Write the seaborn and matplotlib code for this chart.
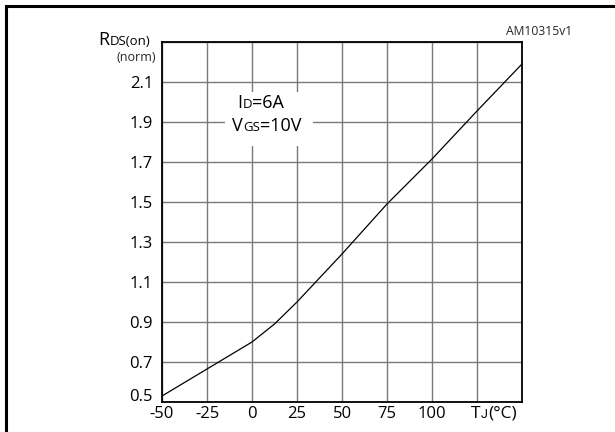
import matplotlib
matplotlib.use("Agg")
import matplotlib.pyplot as plt
import matplotlib.transforms as mtransforms
import seaborn as sns
import pandas as pd
from matplotlib.patches import Rectangle

# values
tj = [-50, -25, 0, 12.5, 25, 37.5, 50, 75, 100, 125, 150]
rds_norm = [0.53, 0.665, 0.80, 0.89, 1.00, 1.12, 1.24, 1.49, 1.715, 1.955, 2.19]

x_ticks = [-50, -25, 0, 25, 50, 75, 100, 125, 150]
x_labels = ["-50", "-25", "0", "25", "50", "75", "100", "", ""]
y_ticks = [0.5, 0.7, 0.9, 1.1, 1.3, 1.5, 1.7, 1.9, 2.1, 2.3]
y_labels = ["0.5", "0.7", "0.9", "1.1", "1.3", "1.5", "1.7", "1.9", "2.1", ""]

df = pd.DataFrame({"tj": tj, "rds": rds_norm})

sns.set_style("white")
plt.rcParams["font.family"] = ["Open Sans", "DejaVu Sans"]

fig = plt.figure(figsize=(6.15, 4.32), dpi=100)
ax = fig.add_axes([162 / 615, 1 - 402 / 432, 360 / 615, 360 / 432])

sns.lineplot(data=df, x="tj", y="rds", color="black", linewidth=0.9, ax=ax, zorder=4)

ax.set_xlim(-50, 150)
ax.set_ylim(0.5, 2.3)
ax.set_xticks(x_ticks)
ax.set_xticklabels(x_labels)
ax.set_yticks(y_ticks)
ax.set_yticklabels(y_labels)
ax.tick_params(axis="both", length=0, labelsize=12, colors="black")
ax.tick_params(axis="x", pad=3)
ax.tick_params(axis="y", pad=6.5)
ax.set_xlabel("")
ax.set_ylabel("")
ax.grid(True, color="#7a7a7a", linewidth=1.0)
ax.set_axisbelow(True)
for sp in ax.spines.values():
    sp.set_color("black")
    sp.set_linewidth(1.3)

# lift the bottom y label a little, as in the original
lab0 = ax.get_yticklabels()[0]
lab0.set_transform(lab0.get_transform() + mtransforms.ScaledTranslation(0, 5 / 72, fig.dpi_scale_trans))

# white area behind the condition text
ax.add_patch(Rectangle((-15, 1.78), 49, 0.27, facecolor="white", edgecolor="none", zorder=2))

renderer = fig.canvas.get_renderer()


def chain(parts, xp, yp):
    # pieces of one label, big and small letters on the same baseline (pixel coords from top-left)
    x = xp
    for part in parts:
        s, size = part[0], part[1]
        fam = part[2] if len(part) > 2 else None
        t = fig.text(x / 615, 1 - yp / 432, s, fontsize=size, ha="left", va="baseline",
                     color="black", zorder=5)
        if fam:
            t.set_family(fam)
        bb = t.get_window_extent(renderer)
        x = bb.x1 + 0.3


# condition text
chain([("I", 13), ("D", 9.5), ("=6A", 13)], 237, 108)
chain([("V", 13), ("GS", 9.5), ("=10V", 13)], 232, 131)

# axis titles
chain([("R", 13), ("DS(on)", 9.5)], 98, 45)
fig.text(156 / 615, 1 - 61 / 432, "(norm)", fontsize=9, ha="right", va="baseline")
chain([("T", 12.5), ("J", 9, "Roboto"), ("(°C)", 12.5)], 471, 418)

fig.text(506 / 615, 1 - 35 / 432, "AM10315v1", fontsize=8.7, ha="left", va="baseline")

# outer frame
fig.patches.append(Rectangle((6 / 615, -0.2), 1.2, 1.2 - 6 / 432, transform=fig.transFigure,
                             fill=False, edgecolor="black", linewidth=2.2))

fig.savefig("out.png", dpi=100)
